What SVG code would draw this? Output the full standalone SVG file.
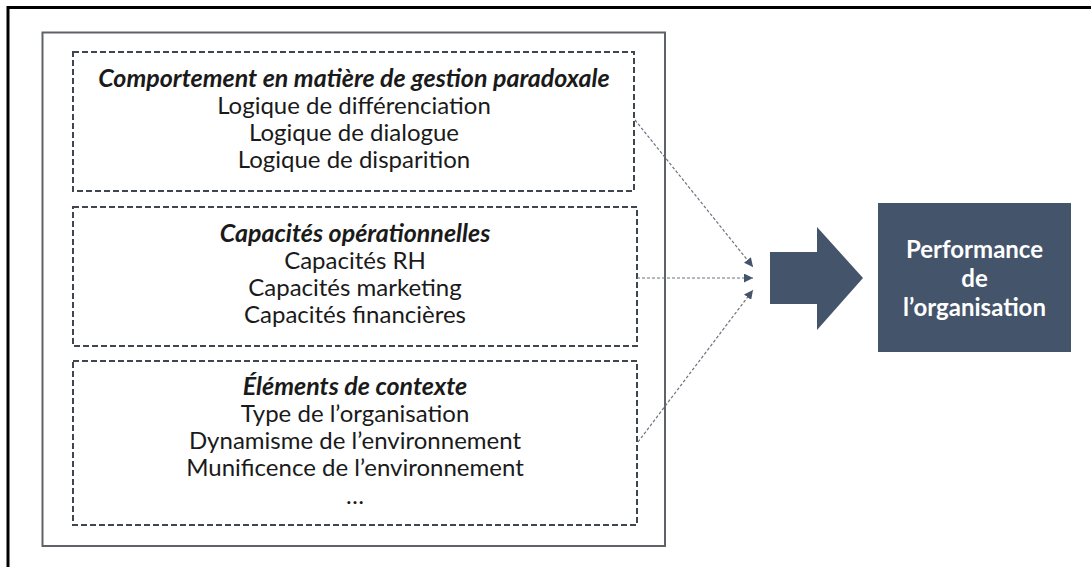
<svg xmlns="http://www.w3.org/2000/svg" width="1091" height="567" viewBox="0 0 1091 567">
<defs>
<style>
.frame{fill:none;stroke:#000;stroke-width:3}
.inner{fill:none;stroke:#5f6368;stroke-width:2}
.dbox{fill:#fff;stroke:#3f4650;stroke-width:2;stroke-dasharray:6 3}
.t{font-family:Lato,"Liberation Sans",sans-serif;font-size:24px;fill:#1a1a1a;text-anchor:middle}
.h{font-weight:bold;font-style:italic;font-size:25px}
.conn{fill:none;stroke:#6b7380;stroke-width:1.2;stroke-dasharray:3 2}
.pt{font-family:Lato,"Liberation Sans",sans-serif;font-size:24px;font-weight:bold;fill:#fff;text-anchor:middle}
</style>
<marker id="ah" viewBox="0 0 10 10" refX="10" refY="5" markerWidth="9" markerHeight="9" markerUnits="userSpaceOnUse" orient="auto">
<path d="M0,0 L10,5 L0,10 Z" fill="#44546A"/>
</marker>
</defs>
<rect width="1091" height="567" fill="#fff"/>
<rect class="frame" x="8" y="7.5" width="1100" height="575"/>
<rect class="inner" x="42.5" y="32.5" width="622.5" height="513.5"/>
<g id="node-comportement">
<rect class="dbox" x="73" y="52" width="561" height="139"/>
<text class="t h" x="354" y="87">Comportement en matière de gestion paradoxale</text>
<text class="t" x="354" y="114">Logique de différenciation</text>
<text class="t" x="354" y="141">Logique de dialogue</text>
<text class="t" x="354" y="168">Logique de disparition</text>
</g>
<g id="node-capacites">
<rect class="dbox" x="73" y="207" width="564" height="139"/>
<text class="t h" x="355" y="242">Capacités opérationnelles</text>
<text class="t" x="355" y="269">Capacités RH</text>
<text class="t" x="355" y="296">Capacités marketing</text>
<text class="t" x="355" y="323">Capacités financières</text>
</g>
<g id="node-contexte">
<rect class="dbox" x="73" y="361" width="564" height="164"/>
<text class="t h" x="355" y="395">Éléments de contexte</text>
<text class="t" x="355" y="422">Type de l’organisation</text>
<text class="t" x="355" y="449">Dynamisme de l’environnement</text>
<text class="t" x="355" y="476">Munificence de l’environnement</text>
<text class="t" x="355" y="504">…</text>
</g>
<g id="connectors">
<path class="conn" d="M635,120 L753,267" marker-end="url(#ah)"/>
<path class="conn" d="M637,278 L753,278" marker-end="url(#ah)"/>
<path class="conn" d="M638,442 L753,290" marker-end="url(#ah)"/>
</g>
<g id="node-bigarrow">
<path d="M770,252 L817,252 L817,227 L863,278 L817,330 L817,304 L770,304 Z" fill="#44546A"/>
</g>
<g id="node-performance">
<rect x="878" y="203" width="193" height="149" fill="#44546A"/>
<text class="pt" x="974.5" y="258">Performance</text>
<text class="pt" x="974.5" y="287">de</text>
<text class="pt" x="974.5" y="316">l’organisation</text>
</g>
</svg>
